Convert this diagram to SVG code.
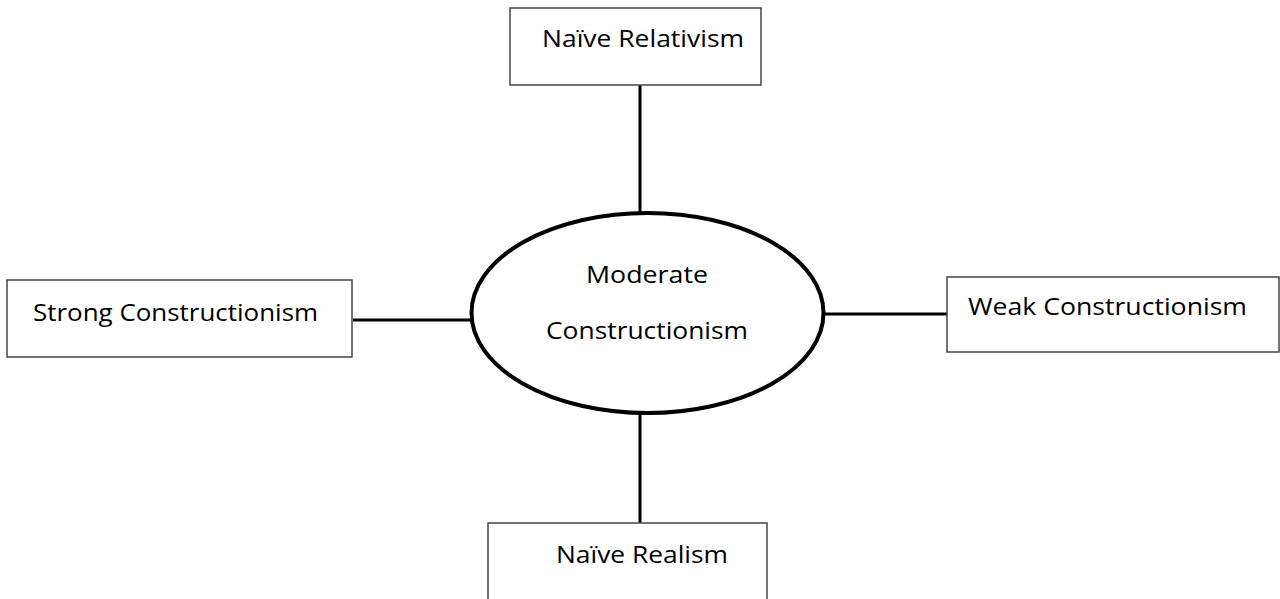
<svg xmlns="http://www.w3.org/2000/svg" width="1280" height="599" viewBox="0 0 1280 599">
<style>
.box{fill:#fff;stroke:#444;stroke-width:1.5}
.lbl{font-family:"Open Sans","Noto Sans",sans-serif;font-size:24px;fill:#000}
.conn{stroke:#000;stroke-width:3;fill:none}
</style>
<rect width="1280" height="599" fill="#fff"/>
<g id="connectors">
<line class="conn" x1="640" y1="85" x2="640" y2="213"/>
<line class="conn" x1="640" y1="413" x2="640" y2="523"/>
<line class="conn" x1="353" y1="320" x2="471" y2="320"/>
<line class="conn" x1="824" y1="314" x2="947" y2="314"/>
</g>
<g id="top">
<rect class="box" x="510" y="8" width="251" height="77"/>
<text class="lbl" x="542" y="47" textLength="202" lengthAdjust="spacingAndGlyphs">Naïve Relativism</text>
</g>
<g id="center">
<ellipse cx="647.5" cy="313" rx="176" ry="100" fill="#fff" stroke="#000" stroke-width="4"/>
<text class="lbl" x="586" y="283" textLength="122" lengthAdjust="spacingAndGlyphs">Moderate</text>
<text class="lbl" x="546" y="339" textLength="202" lengthAdjust="spacingAndGlyphs">Constructionism</text>
</g>
<g id="left">
<rect class="box" x="7" y="280" width="345" height="77"/>
<text class="lbl" x="33" y="321" textLength="285" lengthAdjust="spacingAndGlyphs">Strong Constructionism</text>
</g>
<g id="right">
<rect class="box" x="947" y="277" width="332" height="75"/>
<text class="lbl" x="968" y="315" textLength="279" lengthAdjust="spacingAndGlyphs">Weak Constructionism</text>
</g>
<g id="bottom">
<rect class="box" x="488" y="523" width="279" height="80"/>
<text class="lbl" x="556" y="563" textLength="172" lengthAdjust="spacingAndGlyphs">Naïve Realism</text>
</g>
</svg>
